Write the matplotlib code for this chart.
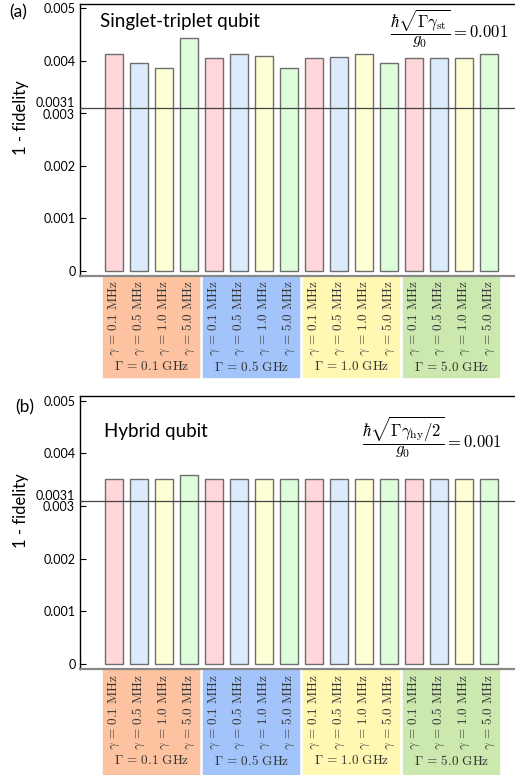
import matplotlib.pyplot as plt
import matplotlib.transforms as mtransforms
from matplotlib.patches import Rectangle

plt.rcParams['font.family'] = ['Lato', 'DejaVu Sans']
plt.rcParams['mathtext.fontset'] = 'cm'

big_gammas = ['0.1', '0.5', '1.0', '5.0']          # GHz
small_gammas = ['0.1', '0.5', '1.0', '5.0']        # MHz

infid_st = [0.00413, 0.00396, 0.00386, 0.00443,
            0.00406, 0.00413, 0.00409, 0.00386,
            0.00406, 0.00408, 0.00412, 0.00396,
            0.00406, 0.00406, 0.00406, 0.00412]
infid_hy = [0.00351, 0.00351, 0.00351, 0.00358,
            0.00351, 0.00351, 0.00351, 0.00351,
            0.00351, 0.00351, 0.00351, 0.00351,
            0.00351, 0.00351, 0.00351, 0.00351]
threshold = 0.0031

bar_colors = ['#ffd6da', '#dcebfb', '#ffffd6', '#defedb']
group_colors = ['#fdc2a0', '#a2c4fa', '#fff8b2', '#cbe8ae']

W, H = 515, 775
fig = plt.figure(figsize=(W / 100, H / 100), dpi=100)


def panel(rect, vals, ylim, letter, title, formula, fx, fy, box_y, glabel_y):
    ax = fig.add_axes(rect)
    n = len(vals)
    x = range(n)
    cols = [bar_colors[i % 4] for i in x]
    ax.bar(x, vals, width=0.73, color=cols, edgecolor='#6e6e6e', linewidth=1.0, zorder=2)
    ax.axhline(threshold, color='#444444', lw=0.9, zorder=3)

    ax.set_xlim(-1.368, 16.03)
    ax.set_ylim(*ylim)
    ax.set_xticks([])
    ticks = [0, 0.001, 0.002, 0.003, 0.004, 0.005]
    ax.set_yticks(ticks)
    ax.set_yticklabels(['0', '0.001', '0.002', '', '0.004', '0.005'])
    ax.tick_params(axis='y', direction='in', length=4, labelsize=9, pad=3)
    # 0.003 and the threshold 0.0031 sit close together, so spread them apart a little
    yt = ax.get_yaxis_transform()
    up = mtransforms.ScaledTranslation(0, 4.5 / 100, fig.dpi_scale_trans)
    down = mtransforms.ScaledTranslation(0, -1.5 / 100, fig.dpi_scale_trans)
    ax.text(-0.012, threshold, '0.0031', transform=yt + up,
            ha='right', va='center', fontsize=9)
    ax.text(-0.012, 0.003, '0.003', transform=yt + down,
            ha='right', va='center', fontsize=9)
    ax.plot([0, 0.009], [threshold, threshold], transform=yt,
            color='k', lw=0.8, clip_on=False)

    ax.spines['right'].set_visible(False)
    ax.spines['left'].set_linewidth(1.0)
    ax.spines['top'].set_linewidth(1.0)
    ax.spines['bottom'].set_color('#888888')
    ax.spines['bottom'].set_linewidth(1.6)

    ax.set_ylabel('1 - fidelity', fontsize=12)
    ax.yaxis.set_label_coords(-0.118, 0.58)
    fig.text(letter[2] / W, 1 - letter[1] / H, letter[0], fontsize=12.5, ha='center', va='center')
    fig.text(title[1] / W, 1 - title[2] / H, title[0], fontsize=13.5, ha='left', va='center')
    fig.text(fx / W, 1 - fy / H, formula, fontsize=12, ha='center', va='center')

    # coloured group boxes and rotated labels under the axis
    tr = mtransforms.blended_transform_factory(ax.transData, fig.transFigure)
    y0, y1 = 1 - box_y[1] / H, 1 - box_y[0] / H
    for g, G in enumerate(big_gammas):
        ax.add_patch(Rectangle((-0.46 + 4 * g, y0), 3.86, y1 - y0, transform=tr,
                               color=group_colors[g], clip_on=False, zorder=0))
        for k, s in enumerate(small_gammas):
            ax.text(4 * g + k, y1 - 4 / H, r'$\gamma\,=\,%s\ \mathrm{MHz}$' % s,
                    transform=tr, rotation=90, ha='center', va='top',
                    fontsize=9.5, color='#333333')
        ax.text(4 * g + 1.5, 1 - glabel_y / H, r'$\Gamma\,=\,%s\ \mathrm{GHz}$' % G,
                transform=tr, ha='center', va='center', fontsize=9.5, color='#333333')
    return ax


panel([80 / W, 1 - 275.7 / H, 1 - 80 / W, 271.7 / H], infid_st, (-0.0000952, 0.00508),
      ('(a)', 12, 18), ('Singlet-triplet qubit', 100, 22),
      r'$\dfrac{\hbar\sqrt{\Gamma\gamma_{\rm st}}}{g_0} = 0.001$', 449, 29,
      (276, 377), 366)
panel([80 / W, 1 - 669 / H, 1 - 80 / W, 273.3 / H], infid_hy, (-0.0001, 0.005095),
      ('(b)', 407, 25), ('Hybrid qubit', 104, 432),
      r'$\dfrac{\hbar\sqrt{\Gamma\gamma_{\rm hy}/2}}{g_0} = 0.001$', 432, 437,
      (670, 776), 760)

fig.savefig('out.png', dpi=100)
